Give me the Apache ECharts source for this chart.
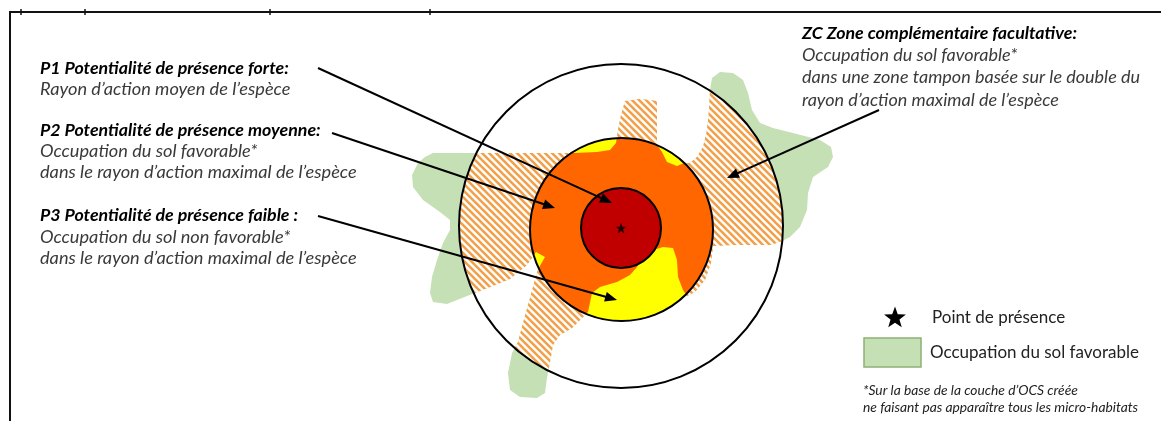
<!DOCTYPE html>
<html><head><meta charset="utf-8">
<script src="https://cdn.jsdelivr.net/npm/echarts/dist/echarts.min.js"></script>
<style>html,body{margin:0;padding:0;background:#fff}#c{width:1161px;height:421px}</style>
</head><body><div id="c"></div>
<script>
// ---------- DATA ----------
// outline of the favourable land-use area (green), in diagram units
const greenOutline = [[425,157],[433,153],[470,153],[520,153],[560,153],[575,153],[597,152],[610,150],[616,143],[618,130],[621,115],[625,101],[640,99],[657,101],[657,125],[657,145],[662,152],[667,162],[677,166],[684,163],[690,163],[697,157],[703,147],[707,130],[709,110],[710,90],[712,78],[720,72],[733,73],[743,80],[748,93],[752,110],[760,123],[773,128],[793,133],[820,140],[831,147],[833,157],[828,167],[813,177],[808,193],[807,210],[800,227],[790,237],[780,242],[770,245],[733,245],[713,246],[711,263],[705,280],[695,292],[687,296],[683,290],[678,277],[677,260],[673,248],[663,247],[653,250],[642,258],[637,267],[630,275],[617,282],[600,287],[592,293],[588,312],[582,318],[572,328],[560,335],[553,345],[550,362],[547,378],[545,393],[537,398],[520,397],[510,390],[508,373],[512,353],[518,342],[523,323],[530,298],[537,272],[541,264],[545,257],[536,252],[527,265],[510,279],[490,287],[467,296],[447,304],[433,302],[430,293],[432,277],[437,260],[443,243],[450,230],[450,220],[440,212],[423,200],[413,187],[412,175],[418,163]];
// buffer circles: [cx, cy, radius]  (ZC, P2 max radius, P1 mean radius)
const zoneZC = [621, 226, 162];
const zoneP2 = [621.5, 229.5, 91.5];
const zoneP1 = [621, 228, 40];
const presencePoint = [621, 228];
// arrows: [x1, y1, x2, y2]
const arrows = [[318,68,612,203],[332,133,555,208],[318,216,617,300],[879,110,727,178]];
// texts
const leftTitles = ['P1 Potentialité de présence forte:', 'P2 Potentialité de présence moyenne:', 'P3 Potentialité de présence faible :'];
const leftTitleY = [68, 130, 215];
const leftSubs = [['Rayon d’action moyen de l’espèce'], ['Occupation du sol favorable*', 'dans le rayon d’action maximal de l’espèce'], ['Occupation du sol non favorable*', 'dans le rayon d’action maximal de l’espèce']];
const leftSubY = [[89], [151, 172], [237, 258]];
const rightTitle = 'ZC Zone complémentaire facultative:';
const rightSubs = ['Occupation du sol favorable*', 'dans une zone tampon basée sur le double du', 'rayon d’action maximal de l’espèce'];
const legendLabels = ['Point de présence', 'Occupation du sol favorable'];
const footnote = ['*Sur la base de la couche d’OCS créée', 'ne faisant pas apparaître tous les micro-habitats'];
const frameTicks = [21, 85, 270, 430];

// ---------- COLOURS ----------
const C_GREEN = '#C5E0B4', C_ORANGE = '#FF6600', C_YELLOW = '#FFFF00', C_RED = '#C00000', C_HATCH = '#F2A04A';
const FONT = 'Lato';

// ---------- helpers ----------
function circlePoly(c, n) {
  const pts = [];
  for (let k = 0; k < n; k++) { const t = 2 * Math.PI * k / n; pts.push([c[0] + c[2] * Math.cos(t), c[1] + c[2] * Math.sin(t)]); }
  return pts;
}
function clipPoly(subject, clip, center) {
  let out = subject.slice();
  for (let i = 0; i < clip.length; i++) {
    const A = clip[i], B = clip[(i + 1) % clip.length];
    const cr = (P) => (B[0] - A[0]) * (P[1] - A[1]) - (B[1] - A[1]) * (P[0] - A[0]);
    const s = Math.sign(cr(center));
    const inside = (P) => cr(P) * s >= 0;
    const inp = out; out = [];
    if (!inp.length) break;
    for (let j = 0; j < inp.length; j++) {
      const P = inp[j], Q = inp[(j + 1) % inp.length];
      const pin = inside(P), qin = inside(Q);
      const inter = () => { const a = cr(P), b = cr(Q); const t = a / (a - b); return [P[0] + t * (Q[0] - P[0]), P[1] + t * (Q[1] - P[1])]; };
      if (pin) { out.push(P); if (!qin) out.push(inter()); }
      else if (qin) out.push(inter());
    }
  }
  return out;
}
const hatchCanvas = document.createElement('canvas');
hatchCanvas.width = 7; hatchCanvas.height = 7;
(function () {
  const g = hatchCanvas.getContext('2d');
  g.fillStyle = '#fff'; g.fillRect(0, 0, 7, 7);
  g.strokeStyle = C_HATCH; g.lineWidth = 2.6;
  for (const c of [-7, 0, 7]) { g.beginPath(); g.moveTo(c - 1, -1); g.lineTo(c + 8, 8); g.stroke(); }
})();

const hatchArea = clipPoly(greenOutline, circlePoly(zoneZC, 180), zoneZC);
const orangeArea = clipPoly(greenOutline, circlePoly(zoneP2, 180), zoneP2);

function polySeries(name, pts, fill, z) {
  return {
    type: 'custom', name, z, silent: true,
    data: [0],
    renderItem: (params, api) => ({
      type: 'polygon',
      shape: { points: pts.map(p => api.coord(p)) },
      style: { fill: fill, stroke: null }
    })
  };
}
function circleSeries(name, circ, fill, stroke, z) {
  return {
    type: 'custom', name, z, silent: true,
    data: [circ],
    renderItem: (params, api) => {
      const c = api.coord([api.value(0), api.value(1)]);
      const r = api.size([api.value(2), 0])[0];
      return { type: 'circle', shape: { cx: c[0], cy: c[1], r: r }, style: { fill: fill, stroke: stroke, lineWidth: 2 } };
    }
  };
}

const texts = [];
function addText(x, y, text, font, fill) {
  texts.push({ type: 'text', x, y, style: { text, font, fill, verticalAlign: 'middle', textVerticalAlign: 'middle' }, z: 100 });
}
leftTitles.forEach((t, i) => {
  addText(40, leftTitleY[i], t, 'italic bold 17.8px ' + FONT, '#000');
  leftSubs[i].forEach((s, j) => addText(40, leftSubY[i][j], s, 'italic 18.2px ' + FONT, '#3a3a3a'));
});
addText(802, 33, rightTitle, 'italic bold 17.8px ' + FONT, '#000');
rightSubs.forEach((s, j) => addText(802, [55, 77, 100][j], s, 'italic 18px ' + FONT, '#3a3a3a'));
addText(932, 318, legendLabels[0], '17px ' + FONT, '#222');
addText(930, 353, legendLabels[1], '17px ' + FONT, '#222');
addText(863, 391, footnote[0], 'italic 13.8px ' + FONT, '#222');
addText(863, 408, footnote[1], 'italic 13.8px ' + FONT, '#222');

function starPoints(cx, cy, R, r) {
  const p = [];
  for (let k = 0; k < 10; k++) { const a = -Math.PI / 2 + k * Math.PI / 5; const rr = k % 2 ? r : R; p.push([cx + rr * Math.cos(a), cy + rr * Math.sin(a)]); }
  return p;
}

const graphics = texts.concat([
  { type: 'line', shape: { x1: 9, y1: 12, x2: 1161, y2: 12 }, style: { stroke: '#111', lineWidth: 2 } },
  { type: 'line', shape: { x1: 10, y1: 12, x2: 10, y2: 421 }, style: { stroke: '#111', lineWidth: 2 } },
  { type: 'polygon', shape: { points: starPoints(895, 318, 11.5, 4.7) }, style: { fill: '#000' } },
  { type: 'rect', shape: { x: 864, y: 338, width: 57, height: 29 }, style: { fill: C_GREEN, stroke: '#8DB075', lineWidth: 1.5 } }
]).concat(frameTicks.map(x => ({ type: 'line', shape: { x1: x, y1: 9, x2: x, y2: 15 }, style: { stroke: '#111', lineWidth: 1.5 } })));

const chart = echarts.init(document.getElementById('c'), null, { renderer: 'canvas' });
chart.setOption({
  animation: false,
  backgroundColor: '#fff',
  grid: { left: 0, right: 0, top: 0, bottom: 0 },
  xAxis: { type: 'value', min: 0, max: 1161, show: false },
  yAxis: { type: 'value', min: 0, max: 421, inverse: true, show: false },
  graphic: graphics,
  series: [
    polySeries('Occupation du sol favorable', greenOutline, C_GREEN, 1),
    polySeries('ZC', hatchArea, { image: hatchCanvas, repeat: 'repeat' }, 2),
    circleSeries('P3', zoneP2, C_YELLOW, null, 3),
    polySeries('P2', orangeArea, C_ORANGE, 4),
    circleSeries('P1', zoneP1, C_RED, null, 5),
    circleSeries('ZC outline', zoneZC, null, '#000', 6),
    circleSeries('P2 outline', zoneP2, null, '#000', 6),
    circleSeries('P1 outline', zoneP1, null, '#000', 6),
    {
      type: 'scatter', name: 'Point de présence', z: 7, silent: true,
      symbol: 'path://M12,0 L14.8,8.6 L23.8,8.6 L16.5,13.9 L19.3,22.5 L12,17.2 L4.7,22.5 L7.5,13.9 L0.2,8.6 L9.2,8.6 Z',
      symbolSize: 11, itemStyle: { color: '#000' },
      data: [presencePoint]
    },
    {
      type: 'custom', name: 'arrows', z: 8, silent: true,
      data: arrows,
      renderItem: (params, api) => {
        const a = api.coord([api.value(0), api.value(1)]);
        const b = api.coord([api.value(2), api.value(3)]);
        const dx = b[0] - a[0], dy = b[1] - a[1], L = Math.hypot(dx, dy);
        const ux = dx / L, uy = dy / L, hl = 12, hw = 5;
        const base = [b[0] - ux * hl, b[1] - uy * hl];
        return {
          type: 'group', children: [
            { type: 'line', shape: { x1: a[0], y1: a[1], x2: base[0] + ux * 2, y2: base[1] + uy * 2 }, style: { stroke: '#000', lineWidth: 2 } },
            { type: 'polygon', shape: { points: [b, [base[0] - uy * hw, base[1] + ux * hw], [base[0] + uy * hw, base[1] - ux * hw]] }, style: { fill: '#000' } }
          ]
        };
      }
    }
  ]
});
</script>
</body></html>
